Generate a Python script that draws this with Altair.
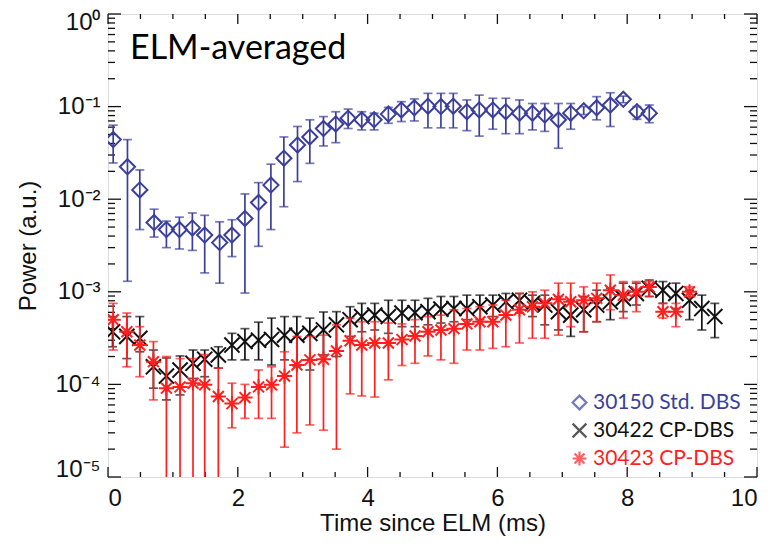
import altair as alt
import pandas as pd

# ---------------- data ----------------
names = ["30150 Std. DBS", "30422 CP-DBS", "30423 CP-DBS"]
colors = ["#3b3f9b", "#111111", "#ff1f1f"]
panel_label = ["ELM-averaged"]

t_std = [0.08, 0.30, 0.49, 0.71, 0.90, 1.10, 1.30, 1.49, 1.72, 1.91,
         2.11, 2.32, 2.51, 2.71, 2.92, 3.11, 3.32, 3.51, 3.70, 3.91,
         4.10, 4.32, 4.52, 4.72, 4.93, 5.13, 5.32, 5.53, 5.72, 5.93,
         6.13, 6.34, 6.54, 6.73, 6.94, 7.13, 7.33, 7.53, 7.74, 7.94,
         8.15, 8.34]
p_std = [0.044, 0.0224, 0.0126, 0.0056, 0.0047, 0.0047, 0.0049, 0.0041, 0.0034, 0.0041,
         0.0062, 0.0092, 0.0142, 0.0277, 0.0385, 0.047, 0.058, 0.065, 0.075, 0.072,
         0.072, 0.083, 0.092, 0.097, 0.101, 0.100, 0.101, 0.088, 0.092, 0.092,
         0.088, 0.085, 0.085, 0.081, 0.072, 0.085, 0.090, 0.097, 0.104, 0.120,
         0.088, 0.085]
hi_std = [0.063, 0.044, 0.0207, 0.0078, 0.0058, 0.0064, 0.0071, 0.0067, 0.0057, 0.0060,
          0.0114, 0.0151, 0.0239, 0.047, 0.061, 0.072, 0.078, 0.088, 0.094, 0.088,
          0.085, 0.098, 0.113, 0.121, 0.139, 0.139, 0.139, 0.118, 0.133, 0.123,
          0.123, 0.118, 0.108, 0.108, 0.108, 0.108, 0.100, 0.128, 0.141, 0.130,
          0.100, 0.104]
lo_std = [0.0246, 0.0013, 0.0047, 0.0039, 0.0030, 0.0029, 0.0028, 0.0016, 0.00124, 0.0024,
          0.00097, 0.0031, 0.0047, 0.0083, 0.0155, 0.0244, 0.0376, 0.0408, 0.058, 0.056,
          0.056, 0.066, 0.069, 0.070, 0.059, 0.059, 0.059, 0.055, 0.048, 0.057,
          0.051, 0.051, 0.056, 0.054, 0.0355, 0.057, 0.082, 0.072, 0.061, 0.110,
          0.073, 0.067]

t_cp2 = [0.07, 0.29, 0.49, 0.70, 0.90, 1.11, 1.31, 1.49, 1.70, 1.91,
         2.11, 2.32, 2.52, 2.72, 2.91, 3.11, 3.32, 3.52, 3.73, 3.91,
         4.11, 4.32, 4.53, 4.73, 4.93, 5.13, 5.33, 5.53, 5.73, 5.93,
         6.13, 6.34, 6.54, 6.73, 6.94, 7.13, 7.33, 7.53, 7.74, 7.94,
         8.14, 8.34, 8.55, 8.75, 8.96, 9.15, 9.35]
p_cp2 = [3.7e-4, 3.3e-4, 3.15e-4, 1.55e-4, 1.23e-4, 1.43e-4, 1.69e-4, 1.87e-4, 2.08e-4, 2.66e-4,
         2.9e-4, 3.0e-4, 3.06e-4, 3.4e-4, 3.4e-4, 3.56e-4, 3.87e-4, 4.4e-4, 5.0e-4, 5.4e-4,
         5.6e-4, 5.4e-4, 5.9e-4, 5.95e-4, 6.1e-4, 6.5e-4, 6.6e-4, 6.6e-4, 6.9e-4, 7.2e-4,
         7.8e-4, 8.1e-4, 7.5e-4, 7.2e-4, 6.1e-4, 5.6e-4, 6.4e-4, 7.2e-4, 7.8e-4, 8.5e-4,
         9.6e-4, 1.09e-3, 1.04e-3, 9.6e-4, 8.1e-4, 6.6e-4, 5.4e-4]
hi_cp2 = [5.4e-4, 5.4e-4, 5.4e-4, 2.35e-4, 1.93e-4, 2.03e-4, 2.35e-4, 2.35e-4, 2.55e-4, 3.56e-4,
          4.0e-4, 4.7e-4, 5.2e-4, 5.4e-4, 5.4e-4, 5.2e-4, 6.05e-4, 6.1e-4, 6.9e-4, 7.5e-4,
          7.5e-4, 8.1e-4, 8.1e-4, 8.1e-4, 8.5e-4, 8.9e-4, 8.9e-4, 9.2e-4, 9.2e-4, 9.2e-4,
          9.6e-4, 9.6e-4, 9.2e-4, 9.2e-4, 8.9e-4, 8.1e-4, 8.9e-4, 1.04e-3, 1.09e-3, 1.24e-3,
          1.24e-3, 1.34e-3, 1.29e-3, 1.24e-3, 1.04e-3, 9.2e-4, 7.5e-4]
lo_cp2 = [2.55e-4, 1.9e-4, 2.25e-4, 9.1e-5, 6.8e-5, 7.7e-5, 1.16e-4, 1.21e-4, 1.5e-4, 1.84e-4,
          1.84e-4, 1.84e-4, 1.62e-4, 1.84e-4, 1.58e-4, 1.43e-4, 2.08e-4, 2.0e-4, 3.3e-4, 3.7e-4,
          3.87e-4, 3.56e-4, 4.2e-4, 4.2e-4, 4.4e-4, 4.6e-4, 4.75e-4, 5.0e-4, 5.0e-4, 5.4e-4,
          5.6e-4, 5.9e-4, 5.4e-4, 4.4e-4, 3.87e-4, 3.3e-4, 3.7e-4, 4.75e-4, 5.0e-4, 6.1e-4,
          7.2e-4, 8.9e-4, 7.5e-4, 6.6e-4, 5.0e-4, 3.87e-4, 3.2e-4]

t_cp3 = [0.08, 0.29, 0.49, 0.70, 0.90, 1.11, 1.31, 1.49, 1.70, 1.91,
         2.11, 2.32, 2.52, 2.72, 2.91, 3.11, 3.32, 3.52, 3.73, 3.91,
         4.11, 4.32, 4.53, 4.73, 4.93, 5.13, 5.33, 5.53, 5.73, 5.93,
         6.13, 6.34, 6.54, 6.73, 6.94, 7.13, 7.33, 7.53, 7.74, 7.94,
         8.14, 8.34, 8.55, 8.75, 8.96]
p_cp3 = [5.0e-4, 3.7e-4, 2.66e-4, 1.76e-4, 9.1e-5, 9.4e-5, 1.03e-4, 9.9e-5, 7.4e-5, 6.2e-5,
         7.2e-5, 9.4e-5, 9.9e-5, 1.23e-4, 1.62e-4, 1.84e-4, 1.87e-4, 2.3e-4, 2.96e-4, 2.66e-4,
         2.8e-4, 2.8e-4, 3.05e-4, 3.33e-4, 3.7e-4, 3.87e-4, 4.0e-4, 4.5e-4, 4.75e-4, 4.75e-4,
         5.6e-4, 6.4e-4, 6.9e-4, 7.5e-4, 8.3e-4, 7.8e-4, 8.1e-4, 8.5e-4, 1.04e-3, 9.2e-4,
         1.0e-3, 1.13e-3, 6.1e-4, 6.1e-4, 1.0e-3]
hi_cp3 = [7.5e-4, 5.9e-4, 4.2e-4, 2.9e-4, 2.0e-4, 1.9e-4, 1.9e-4, 2.1e-4, 1.5e-4, 1.03e-4,
          1.0e-4, 1.43e-4, 1.55e-4, 2.25e-4, 3.3e-4, 3.3e-4, 3.4e-4, 4.4e-4, 5.2e-4, 4.75e-4,
          4.75e-4, 4.6e-4, 4.5e-4, 5.0e-4, 5.4e-4, 5.6e-4, 6.4e-4, 6.6e-4, 6.9e-4, 7.2e-4,
          8.1e-4, 9.6e-4, 1.0e-3, 1.04e-3, 1.24e-3, 1.24e-3, 1.13e-3, 1.24e-3, 1.52e-3, 1.29e-3,
          1.29e-3, 1.29e-3, 7.5e-4, 7.5e-4, 1.13e-3]
# 1e-7 = error bar running off the bottom of the axis
lo_cp3 = [2.35e-4, 1.55e-4, 1.21e-4, 6.8e-5, 1e-7, 1e-7, 1e-7, 1e-7, 1e-7, 3.4e-5,
          4.3e-5, 4.3e-5, 4.3e-5, 2.1e-5, 3.0e-5, 3.65e-5, 3.2e-5, 2.0e-5, 7.9e-5, 7.5e-5,
          7.3e-5, 1.12e-4, 1.6e-4, 1.69e-4, 2.03e-4, 1.84e-4, 1.69e-4, 2.35e-4, 2.35e-4, 2.45e-4,
          2.55e-4, 2.8e-4, 3.15e-4, 3.15e-4, 3.4e-4, 4.2e-4, 3.7e-4, 4.75e-4, 6.4e-4, 5.2e-4,
          6.1e-4, 8.9e-4, 5.2e-4, 4.2e-4, 8.9e-4]

x_ticks_major = [0, 2, 4, 6, 8, 10]
x_ticks_minor = [0.5, 1, 1.5, 2.5, 3, 3.5, 4.5, 5, 5.5, 6.5, 7, 7.5, 8.5, 9, 9.5]
y_ticks_major = [1e-5, 1e-4, 1e-3, 1e-2, 1e-1, 1.0]
y_ticks_minor = [k * 10.0 ** e for e in range(-5, 0) for k in range(2, 10)]

# ---------------- build tables ----------------
series = [(names[0], t_std, p_std, lo_std, hi_std),
          (names[1], t_cp2, p_cp2, lo_cp2, hi_cp2),
          (names[2], t_cp3, p_cp3, lo_cp3, hi_cp3)]
rows = []
for nm, tt, pp, ll, hh in series:
    for a, b, c, d in zip(tt, pp, ll, hh):
        rows.append({"series": nm, "t": a, "p": b, "lo": c, "hi": d,
                     "col": colors[names.index(nm)]})
df = pd.DataFrame(rows)

W, H = 649, 463
FONT = "Liberation Sans"

xscale = alt.Scale(domain=[0, 10], nice=False, zero=False, padding=0)
yscale = alt.Scale(type="log", domain=[1e-5, 1], nice=False, padding=0)

xaxis = alt.Axis(values=x_ticks_major, ticks=False, domain=False, grid=False,
                 labelFont=FONT, labelFontSize=24, labelPadding=9, labelColor="#111",
                 title="Time since ELM (ms)", titleFont=FONT, titleFontSize=24,
                 titleFontWeight="normal", titleColor="#111", titlePadding=1)
yaxis = alt.Axis(values=y_ticks_major, ticks=False, domain=False, grid=False,
                 labelExpr="'10' + ['⁰','⁻¹','⁻²','⁻³','⁻⁴','⁻⁵'][round(-log(datum.value)/LN10)]",
                 labelFont=FONT, labelFontSize=24, labelPadding=8, labelColor="#111",
                 labelFlush=True, labelFlushOffset=4,
                 title="Power (a.u.)", titleFont=FONT, titleFontSize=24,
                 titleFontWeight="normal", titleColor="#111", titlePadding=14)


def X(f):
    return alt.X(f, type="quantitative", scale=xscale, axis=xaxis)


def Y(f):
    return alt.Y(f, type="quantitative", scale=yscale, axis=yaxis)


shape_diamond = "diamond"
shape_x = "M-1,-1L1,1M-1,1L1,-1"
shape_star = "M-1,0L1,0M0,-1L0,1M-0.72,-0.72L0.72,0.72M-0.72,0.72L0.72,-0.72"

base = alt.Chart(df)
bars = base.mark_rule(strokeWidth=1.7, clip=True).encode(
    x=X("t"), y=Y("lo"), y2="hi", color=alt.Color("col:N", scale=None))
cap_hi = base.mark_tick(orient="horizontal", size=9, thickness=1.7, clip=True).encode(
    x=X("t"), y=Y("hi"), color=alt.Color("col:N", scale=None))
cap_lo = base.mark_tick(orient="horizontal", size=9, thickness=1.7, clip=True).encode(
    x=X("t"), y=Y("lo"), color=alt.Color("col:N", scale=None))

legend = alt.Legend(title=None, orient="none", legendX=461, legendY=378, padding=0,
                    labelFont="Lato", labelFontSize=21, labelOffset=3, rowPadding=5,
                    symbolSize=190, symbolStrokeWidth=2.2, symbolType="circle",
                    labelColor={"expr": "datum.value == '30150 Std. DBS' ? '#3b3f9b' : (datum.value == '30423 CP-DBS' ? '#ff1f1f' : '#111111')"})

pts = base.mark_point(filled=False, strokeWidth=2, size=230, opacity=1, clip=True).encode(
    x=X("t"), y=Y("p"),
    color=alt.Color("series:N", scale=alt.Scale(domain=names, range=colors), legend=legend),
    shape=alt.Shape("series:N", scale=alt.Scale(domain=names, range=[shape_diamond, shape_x, shape_star]),
                    legend=legend),
    detail="series:N")

layers = []
for nm in names:
    f = alt.datum.series == nm
    layers += [bars.transform_filter(f), cap_hi.transform_filter(f),
               cap_lo.transform_filter(f), pts.transform_filter(f)]

# ---- inward ticks on all four sides ----
ymaj = pd.DataFrame({"v": y_ticks_major})
ymin = pd.DataFrame({"v": y_ticks_minor})
xmaj = pd.DataFrame({"v": x_ticks_major})
xmin = pd.DataFrame({"v": x_ticks_minor})
tk = dict(color="#111", strokeWidth=1.3)
ticks = [
    alt.Chart(ymaj).mark_rule(**tk).encode(y=Y("v"), x=alt.value(0), x2=alt.value(13)),
    alt.Chart(ymin).mark_rule(**tk).encode(y=Y("v"), x=alt.value(0), x2=alt.value(7)),
    alt.Chart(ymaj).mark_rule(**tk).encode(y=Y("v"), x=alt.value(W), x2=alt.value(W - 13)),
    alt.Chart(ymin).mark_rule(**tk).encode(y=Y("v"), x=alt.value(W), x2=alt.value(W - 7)),
    alt.Chart(xmaj).mark_rule(**tk).encode(x=X("v"), y=alt.value(H), y2=alt.value(H - 10)),
    alt.Chart(xmin).mark_rule(**tk).encode(x=X("v"), y=alt.value(H), y2=alt.value(H - 5)),
    alt.Chart(xmaj).mark_rule(**tk).encode(x=X("v"), y=alt.value(0), y2=alt.value(10)),
    alt.Chart(xmin).mark_rule(**tk).encode(x=X("v"), y=alt.value(0), y2=alt.value(5)),
]

label = alt.Chart(pd.DataFrame({"txt": panel_label})).mark_text(
    font="Lato", fontSize=34, color="#000", align="left", baseline="alphabetic"
).encode(text="txt:N", x=alt.value(22), y=alt.value(45))

chart = alt.layer(*ticks, *layers, label).properties(
    width=W, height=H,
    autosize=alt.AutoSizeParams(type="none"),
    padding={"left": 100, "top": 6, "right": 8, "bottom": 61},
).configure_view(stroke="#111", strokeWidth=1.5).configure(background="white")

chart.save("out.html", embed_options={"renderer": "svg", "actions": False})
